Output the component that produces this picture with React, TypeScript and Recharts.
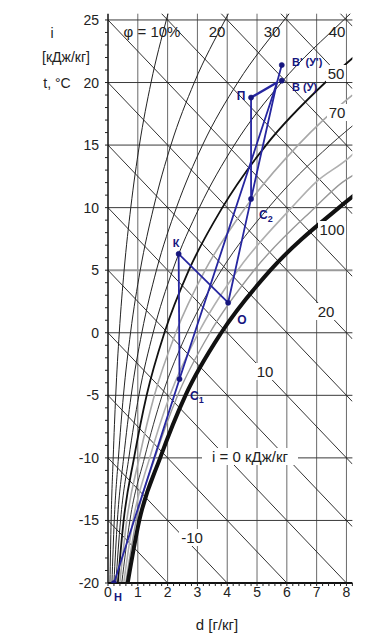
import { ComposedChart, Line, XAxis, YAxis, ReferenceLine } from "recharts";

// moisture content d, g/kg and temperature t, °C
const dTicks = [0, 1, 2, 3, 4, 5, 6, 7, 8];
const tLabels = [-20, -15, -10, -5, 0, 5, 10, 15, 20, 25];
const tGrid = [-15, -10, -5, 0, 10, 15, 20, 25];
const tGridGray = [5];

// relative humidity curves, [d, t]
const phi10 = [[0.066, -20], [0.105, -15], [0.174, -10], [0.259, -5], [0.378, 0], [0.541, 5], [0.764, 10], [1.054, 15], [1.444, 20], [1.958, 25], [2.07, 26]];
const phi20 = [[0.132, -20], [0.21, -15], [0.349, -10], [0.518, -5], [0.756, 0], [1.082, 5], [1.529, 10], [2.111, 15], [2.895, 20], [3.929, 25], [4.15, 26]];
const phi30 = [[0.198, -20], [0.315, -15], [0.524, -10], [0.778, -5], [1.135, 0], [1.625, 5], [2.296, 10], [3.172, 15], [4.353, 20], [5.913, 25], [6.24, 26]];
const phi40 = [[0.264, -20], [0.42, -15], [0.699, -10], [1.037, -5], [1.514, 0], [2.169, 5], [3.065, 10], [4.237, 15], [5.818, 20], [7.908, 25], [8.35, 26]];
const phi50 = [[0.33, -20], [0.525, -15], [0.874, -10], [1.297, -5], [1.894, 0], [2.713, 5], [3.836, 10], [5.305, 15], [7.29, 20], [8.23, 22]];
const phi60 = [[0.396, -20], [0.63, -15], [1.049, -10], [1.557, -5], [2.274, 0], [3.259, 5], [4.609, 10], [6.377, 15], [7.22, 17], [8.2, 19]];
const phi70 = [[0.462, -20], [0.735, -15], [1.224, -10], [1.818, -5], [2.655, 0], [3.805, 5], [5.384, 10], [7.452, 15], [8.44, 17]];
const phi80 = [[0.528, -20], [0.84, -15], [1.399, -10], [2.078, -5], [3.036, 0], [4.352, 5], [6.161, 10], [6.96, 12], [8.09, 14], [8.53, 15]];
const phi90 = [[0.594, -20], [0.945, -15], [1.575, -10], [2.339, -5], [3.418, 0], [4.901, 5], [6.94, 10], [7.85, 12], [8.53, 13]];
const phi100 = [[0.66, -20], [1.05, -15], [1.75, -10], [2.6, -5], [3.8, 0], [5.45, 5], [7.75, 10], [8.27, 11], [8.8, 12]];

// enthalpy lines i, kJ/kg; on this chart they drop 2.5 °C per g/kg
const enthalpyValues = [-15, -10, -5, 0, 5, 10, 15, 20, 25, 30, 35, 40, 45];
const ENTHALPY_DROP = 2.5;

// process points
const procPoints = [
  { id: "Н", d: 0.2, t: -20 },
  { id: "C1", d: 2.4, t: -3.7 },
  { id: "К", d: 2.37, t: 6.3 },
  { id: "О", d: 4.03, t: 2.4 },
  { id: "C2", d: 4.8, t: 10.7 },
  { id: "П", d: 4.8, t: 18.8 },
  { id: "В", d: 5.83, t: 20.15 },
  { id: "В'", d: 5.83, t: 21.4 },
];
const joinPoint = { id: "J", d: 5.67, t: 20.0 };
const procPaths = [
  ["Н", "C1", "J"],
  ["К", "C1"],
  ["К", "О"],
  ["О", "C2", "J"],
  ["C2", "П"],
  ["П", "J"],
  ["В'", "J"],
];

const toRows = (pts: number[][]) => pts.map(([d, t]) => ({ d, t }));
const findPt = (id: string) => (id === "J" ? joinPoint : procPoints.find((p) => p.id === id)!);

const phiCurves = [
  { key: "p10", pts: phi10, color: "#222", w: 1 },
  { key: "p20", pts: phi20, color: "#222", w: 1 },
  { key: "p30", pts: phi30, color: "#222", w: 1 },
  { key: "p40", pts: phi40, color: "#222", w: 1 },
  { key: "p50", pts: phi50, color: "#111", w: 1.8 },
  { key: "p60", pts: phi60, color: "#a8a8a8", w: 1.6 },
  { key: "p70", pts: phi70, color: "#333", w: 1 },
  { key: "p80", pts: phi80, color: "#b0b0b0", w: 1.6 },
  { key: "p90", pts: phi90, color: "#999", w: 1.4 },
  { key: "p100", pts: phi100, color: "#111", w: 4 },
];

const D_MAX = 8.2;
const xMinor = Array.from({ length: 42 }, (_, k) => k / 5);
const yMinor = Array.from({ length: 46 }, (_, k) => k - 20);

const FONT = "'Liberation Sans', Arial, sans-serif";
const BLUE = "#2626a0";
const NAVY = "#16167e";

const YTick = (props: any) => {
  const { x, y, payload } = props;
  if (payload.value % 5 !== 0) return <g />;
  return (
    <text x={x} y={y} dy={5} textAnchor="end" fontSize={14} fontFamily={FONT} fill="#222">
      {payload.value}
    </text>
  );
};

const XTick = (props: any) => {
  const { x, y, payload } = props;
  if (!Number.isInteger(payload.value)) return <g />;
  return (
    <text x={x} y={y} dy={9} textAnchor="middle" fontSize={14} fontFamily={FONT} fill="#222">
      {payload.value}
    </text>
  );
};

const Sub = ({ x, y, main, sub }: { x: number; y: number; main: string; sub: string }) => (
  <text x={x} y={y} fontSize={12} fontWeight="bold" fontFamily={FONT} fill={NAVY}>
    {main}
    <tspan fontSize={9} dy={3}>{sub}</tspan>
  </text>
);

export default function App() {
  const W = 376;
  const H = 632;
  const t = (s: string, x: number, y: number, size = 14, bg = 0) => (
    <g key={s + x + y}>
      {bg > 0 && <rect x={x - bg / 2} y={y - 9} width={bg} height={17} fill="#fff" />}
      <text x={x} y={y} dy={5} textAnchor="middle" fontSize={size} fontFamily={FONT} fill="#222">
        {s}
      </text>
    </g>
  );
  return (
    <div style={{ position: "relative", width: W, height: H, background: "#fff" }}>
      <ComposedChart width={W} height={H} margin={{ top: 5.7, right: 31.6, bottom: 27, left: 0 }}>
        <XAxis
          type="number"
          dataKey="d"
          domain={[0, D_MAX]}
          allowDataOverflow
          ticks={xMinor}
          interval={0}
          tick={<XTick />}
          tickSize={3}
          tickLine={{ stroke: "#222" }}
          axisLine={{ stroke: "#111", strokeWidth: 2 }}
          height={30}
        />
        <YAxis
          type="number"
          dataKey="t"
          domain={[-20, 25.5]}
          allowDataOverflow
          ticks={yMinor}
          interval={0}
          tick={<YTick />}
          tickSize={3}
          tickMargin={6}
          tickLine={{ stroke: "#222" }}
          axisLine={{ stroke: "#111", strokeWidth: 1.5 }}
          width={100}
        />
        {dTicks.filter((v) => v > 0).map((v) => (
          <ReferenceLine key={"v" + v} x={v} stroke="#6a6a6a" strokeWidth={1} />
        ))}
        {tGrid.map((v) => (
          <ReferenceLine key={"h" + v} y={v} stroke="#3a3a3a" strokeWidth={1} />
        ))}
        {tGridGray.map((v) => (
          <ReferenceLine key={"hg" + v} y={v} stroke="#9a9a9a" strokeWidth={2} />
        ))}
        {enthalpyValues.map((i) => (
          <Line
            key={"i" + i}
            data={[{ d: 0, t: i }, { d: D_MAX, t: i - ENTHALPY_DROP * D_MAX }]}
            dataKey="t"
            type="linear"
            stroke="#1c1c1c"
            strokeWidth={0.9}
            dot={false}
            isAnimationActive={false}
          />
        ))}
        {phiCurves.map((c) => (
          <Line
            key={c.key}
            data={toRows(c.pts)}
            dataKey="t"
            type="monotone"
            stroke={c.color}
            strokeWidth={c.w}
            dot={false}
            isAnimationActive={false}
          />
        ))}
        {procPaths.map((p, k) => (
          <Line
            key={"proc" + k}
            data={p.map((id) => ({ d: findPt(id).d, t: findPt(id).t }))}
            dataKey="t"
            type="linear"
            stroke={BLUE}
            strokeWidth={p[0] === "П" ? 2.4 : 1.8}
            dot={false}
            isAnimationActive={false}
          />
        ))}
        <Line
          data={procPoints}
          dataKey="t"
          stroke="none"
          dot={{ r: 2.6, fill: NAVY, stroke: NAVY, strokeWidth: 0.5 }}
          isAnimationActive={false}
        />
      </ComposedChart>
      <svg width={W} height={H} style={{ position: "absolute", left: 0, top: 0, pointerEvents: "none" }}>
        {t("i", 44, 25)}
        {t("[кДж/кг]", 58, 49)}
        {t("t, °C", 49, 75)}
        {t("φ = 10%", 144, 24, 15)}
        {t("20", 209, 24, 15)}
        {t("30", 264, 24, 15)}
        {t("40", 329, 24, 15)}
        {t("50", 328, 66, 15, 20)}
        {t("70", 329, 105, 15, 20)}
        {t("100", 324, 222, 15, 28)}
        {t("20", 318, 304, 15, 22)}
        {t("10", 257, 364, 15, 22)}
        {t("-10", 184, 530, 15, 26)}
        {t("i = 0 кДж/кг", 242, 449, 15, 96)}
        {t("d [г/кг]", 209, 617, 15)}
        <text x={110} y={593} textAnchor="middle" fontSize={11} fontWeight="bold" fontFamily={FONT} fill={NAVY}>Н</text>
        <Sub x={182} y={392} main="С" sub="1" />
        <text x={168} y={239} textAnchor="middle" fontSize={11} fontWeight="bold" fontFamily={FONT} fill={NAVY}>К</text>
        <text x={234} y={316} textAnchor="middle" fontSize={12} fontWeight="bold" fontFamily={FONT} fill={NAVY}>О</text>
        <Sub x={251} y={211} main="С" sub="2" />
        <text x={233} y={92} textAnchor="middle" fontSize={12} fontWeight="bold" fontFamily={FONT} fill={NAVY}>П</text>
        <text x={284} y={58} fontSize={11} fontWeight="bold" fontFamily={FONT} fill={NAVY}>В' (У')</text>
        <text x={284} y={83} fontSize={11} fontWeight="bold" fontFamily={FONT} fill={NAVY}>В (У)</text>
      </svg>
    </div>
  );
}
